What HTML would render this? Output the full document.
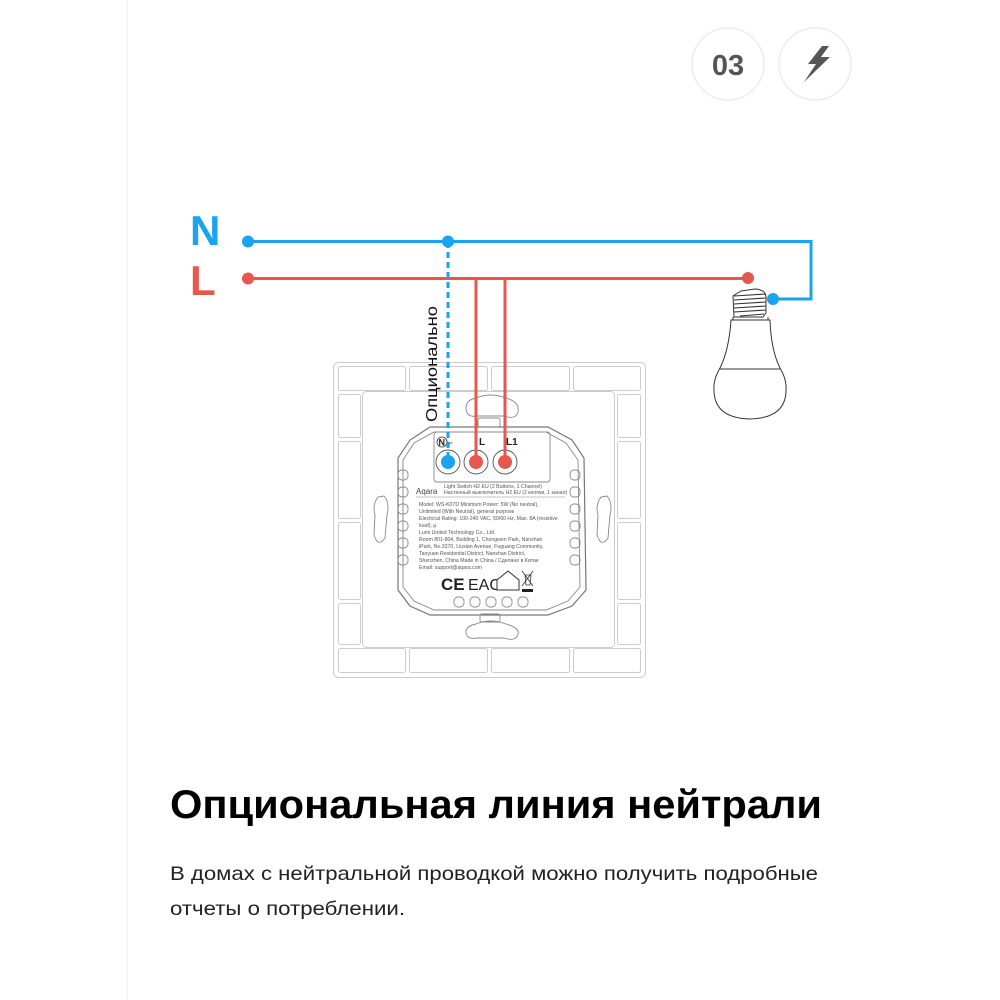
<!DOCTYPE html>
<html><head><meta charset="utf-8"><style>
html,body{margin:0;padding:0;background:#fff;}
svg{display:block;}
.t{font-family:"Liberation Sans","Noto Sans CJK SC",sans-serif;}
.s{font-family:"Liberation Sans","Noto Sans CJK SC",sans-serif;font-size:5.2px;fill:#555;}
</style></head><body>
<svg width="1000" height="1000" viewBox="0 0 1000 1000" xmlns="http://www.w3.org/2000/svg">
<rect width="1000" height="1000" fill="#fff"/>
<line x1="127.5" y1="0" x2="127.5" y2="1000" stroke="#f3f3f3" stroke-width="1"/>
<!-- top badges -->
<circle cx="728" cy="64" r="36" fill="#fff" stroke="#ececec" stroke-width="1.5"/>
<text x="728" y="75" text-anchor="middle" class="t" font-size="29" font-weight="bold" fill="#555">03</text>
<circle cx="815" cy="64" r="36" fill="#fff" stroke="#ececec" stroke-width="1.5"/>
<path d="M822 46 L808 64 L816 64 L804 82 L830 57 L821 57 L829 46 Z" fill="#555"/>
<!-- N / L -->
<text x="190" y="245" class="t" font-size="42" font-weight="bold" fill="#1aa3f0">N</text>
<text x="190" y="295" class="t" font-size="42" font-weight="bold" fill="#e8574e">L</text>
<!-- bulb -->
<g fill="none" stroke="#333" stroke-width="1">
<path d="M741 291 L755 289 Q760 289 764 292 L766 296 L766 313 L763 317 L734 317 L733 296 Z" fill="#fff"/>
<path d="M734 296 L766 294 M734 300 L766 298 M734 304 L766 302 M734 308 L766 306 M734 312 L766 310 M740 316 L764 314"/>
<path d="M733 317 L733 320 L768 320 L768 317"/>
<path d="M731 320 L770 320 Q771 350 780 368 Q787 380 786 390 Q786 418 750 419 Q714 418 714 390 Q713 380 720 368 Q729 350 731 320 Z" fill="#fff"/>
<line x1="720" y1="369" x2="781" y2="369"/>
</g>
<!-- wall plate -->
<g fill="#fff" stroke="#ccc" stroke-width="1">
<rect x="333.5" y="362.5" width="312" height="315" rx="5"/>
<rect x="338.5" y="366.5" width="67" height="24" rx="2"/>
<rect x="409.5" y="366.5" width="78" height="24" rx="2"/>
<rect x="491.5" y="366.5" width="78" height="24" rx="2"/>
<rect x="573.5" y="366.5" width="67" height="24" rx="2"/>
<rect x="338.5" y="648.5" width="67" height="24" rx="2"/>
<rect x="409.5" y="648.5" width="78" height="24" rx="2"/>
<rect x="491.5" y="648.5" width="78" height="24" rx="2"/>
<rect x="573.5" y="648.5" width="67" height="24" rx="2"/>
<rect x="338.5" y="394.5" width="22" height="43" rx="2"/>
<rect x="338.5" y="441.5" width="22" height="77" rx="2"/>
<rect x="338.5" y="522.5" width="22" height="77" rx="2"/>
<rect x="338.5" y="603.5" width="22" height="41" rx="2"/>
<rect x="617.5" y="394.5" width="23" height="43" rx="2"/>
<rect x="617.5" y="441.5" width="23" height="77" rx="2"/>
<rect x="617.5" y="522.5" width="23" height="77" rx="2"/>
<rect x="617.5" y="603.5" width="23" height="41" rx="2"/>
<rect x="362.5" y="391.5" width="252" height="256" rx="4"/>
</g>
<g fill="none" stroke="#888" stroke-width="0.9">
<path d="M476 398 Q490 392 506 398 Q520 402 518 412 Q516 420 504 416 L478 416 Q466 418 466 408 Q466 400 476 398 Z"/>
<path d="M476 624 Q490 618 506 624 Q520 628 518 634 Q516 642 504 638 L478 638 Q466 640 466 632 Q466 626 476 624 Z"/>
<path d="M378 497 Q372 505 375 515 L374 535 Q378 548 385 538 L387 515 Q390 503 384 496 Z"/>
<path d="M601 497 Q595 505 598 515 L597 535 Q601 548 608 538 L610 515 Q613 503 607 496 Z"/>
<path d="M430 427 L548 427 L572 440 L584 458 L586 590 L572 606 L548 615 L430 615 L410 606 L398 590 L398 458 L410 440 Z" stroke="#777" stroke-width="1.2"/>
<path d="M434 432 L546 432 L566 443 L578 460 L580 587 L568 601 L546 610 L434 610 L414 601 L403 587 L403 460 L414 443 Z"/>
<rect x="434" y="432" width="116" height="50" rx="3"/>
<rect x="478" y="418" width="22" height="9" rx="2"/>
<rect x="480" y="614" width="20" height="8" rx="2"/>
<circle cx="448" cy="462" r="12" stroke="#555"/>
<circle cx="476" cy="462" r="12" stroke="#555"/>
<circle cx="505" cy="462" r="12" stroke="#555"/>
<g stroke="#888">
<rect x="398" y="470" width="10" height="10" rx="4"/><rect x="398" y="487" width="10" height="10" rx="4"/><rect x="398" y="504" width="10" height="10" rx="4"/><rect x="398" y="521" width="10" height="10" rx="4"/><rect x="398" y="538" width="10" height="10" rx="4"/><rect x="398" y="555" width="10" height="10" rx="4"/>
<rect x="570" y="470" width="10" height="10" rx="4"/><rect x="570" y="487" width="10" height="10" rx="4"/><rect x="570" y="504" width="10" height="10" rx="4"/><rect x="570" y="521" width="10" height="10" rx="4"/><rect x="570" y="538" width="10" height="10" rx="4"/><rect x="570" y="555" width="10" height="10" rx="4"/>
<rect x="454" y="597" width="10" height="10" rx="4"/><rect x="470" y="597" width="10" height="10" rx="4"/><rect x="486" y="597" width="10" height="10" rx="4"/><rect x="502" y="597" width="10" height="10" rx="4"/><rect x="518" y="597" width="10" height="10" rx="4"/>
</g>
</g>
<circle cx="442" cy="442" r="5" fill="#fff" stroke="#333" stroke-width="0.8"/>
<text x="438.5" y="445.5" class="t" font-size="9" font-weight="bold" fill="#222">N</text>
<text x="446" y="444" class="t" font-size="4" fill="#333">Opt</text>
<text x="479" y="445" class="t" font-size="10" font-weight="bold" fill="#222">L</text>
<text x="506" y="445" class="t" font-size="10" font-weight="bold" fill="#222">L1</text>
<text x="416" y="494" class="t" font-size="8" fill="#444">Aqara</text>
<text x="444" y="488" class="s">Light Switch H2 EU (2 Buttons, 1 Channel)</text>
<text x="444" y="494" class="s">Настенный выключатель H2 EU (2 кнопки, 1 канал)</text>
<line x1="416" y1="497" x2="565" y2="497" stroke="#888" stroke-width="0.6"/>
<text x="419" y="506" class="s">Model: WS-K07D   Minimum Power: 5W (No neutral),</text>
<text x="419" y="513" class="s">Unlimited (With Neutral), general purpose</text>
<text x="419" y="520" class="s">Electrical Rating: 100-240 VAC, 50/60 Hz, Max. 8A (resistive</text>
<text x="419" y="527" class="s">load), μ</text>
<text x="419" y="534" class="s">Lumi United Technology Co., Ltd.</text>
<text x="419" y="541" class="s">Room 801-804, Building 1, Chongwen Park, Nanshan</text>
<text x="419" y="548" class="s">iPark, No.3370, Liuxian Avenue, Fuguang Community,</text>
<text x="419" y="555" class="s">Taoyuan Residential District, Nanshan District,</text>
<text x="419" y="562" class="s">Shenzhen, China          Made in China / Сделано в Китае</text>
<text x="419" y="569" class="s">Email: support@aqara.com</text>
<text x="441" y="590" class="t" font-size="17" font-weight="bold" fill="#222">CE</text>
<text x="468" y="590" class="t" font-size="16" fill="#222">EAC</text>
<path d="M497 590 L497 580 L508 571 L519 580 L519 590 Z" fill="#fff" stroke="#333" stroke-width="1"/>
<path d="M522 571 L533 586 M533 571 L522 586 M525 575 L531 575 L530 585 L526 585 Z" fill="none" stroke="#333" stroke-width="0.8"/>
<rect x="522" y="589" width="11" height="3" fill="#222"/>
<!-- wires (over plate) -->
<polyline points="248,241.5 811,241.5 811,299 773,299" fill="none" stroke="#1aa3f0" stroke-width="3"/>
<line x1="248" y1="278.5" x2="748" y2="278.5" stroke="#e8574e" stroke-width="3"/>
<line x1="448" y1="242" x2="448" y2="462" stroke="#1aa3f0" stroke-width="3" stroke-dasharray="6,4"/>
<polyline points="476,278.5 476,462" fill="none" stroke="#e8574e" stroke-width="3"/>
<polyline points="505,278.5 505,462" fill="none" stroke="#e8574e" stroke-width="3"/>
<circle cx="448" cy="462" r="7" fill="#1aa3f0"/>
<circle cx="476" cy="462" r="7" fill="#e8574e"/>
<circle cx="505" cy="462" r="7" fill="#e8574e"/>
<circle cx="248" cy="241.5" r="6" fill="#1aa3f0"/>
<circle cx="448" cy="241.5" r="6" fill="#1aa3f0"/>
<circle cx="248" cy="278.5" r="6" fill="#e8574e"/>
<circle cx="748" cy="278" r="6" fill="#e8574e"/>
<circle cx="773" cy="299" r="6" fill="#1aa3f0"/>
<text transform="translate(437,422) rotate(-90)" class="t" font-size="16" fill="#111" textLength="116" lengthAdjust="spacingAndGlyphs">Опционально</text>
<!-- text -->
<text x="170" y="818" class="t" font-size="40" font-weight="bold" fill="#000" textLength="652" lengthAdjust="spacingAndGlyphs">Опциональная линия нейтрали</text>
<text x="170" y="880" class="t" font-size="19.5" fill="#222" textLength="648" lengthAdjust="spacingAndGlyphs">В домах с нейтральной проводкой можно получить подробные</text>
<text x="170" y="915" class="t" font-size="19.5" fill="#222" textLength="235" lengthAdjust="spacingAndGlyphs">отчеты о потреблении.</text>
</svg>
</body></html>
